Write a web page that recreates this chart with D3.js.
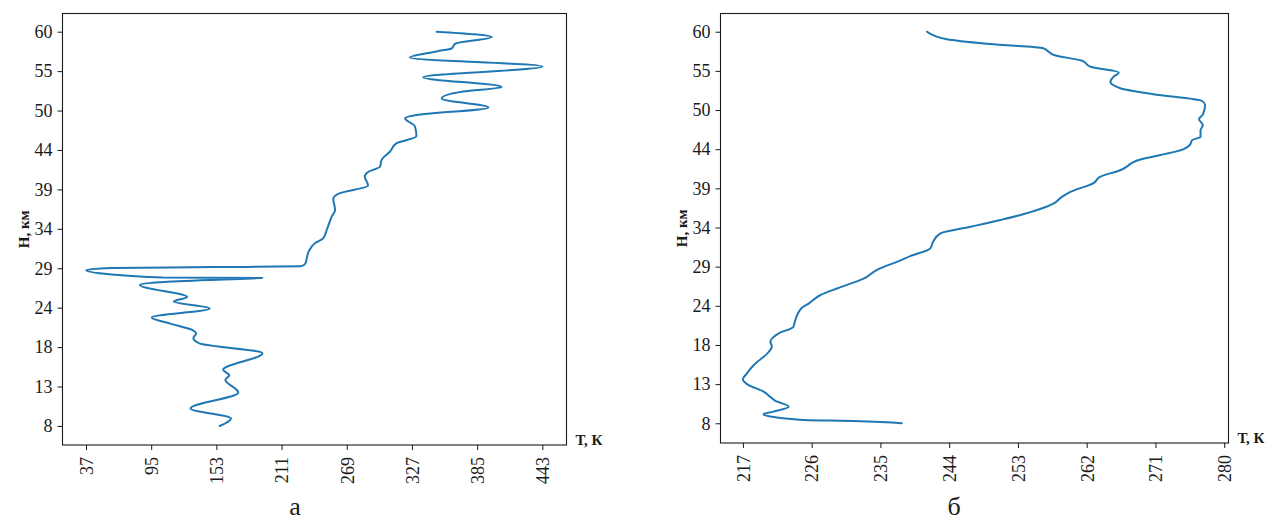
<!DOCTYPE html>
<html>
<head>
<meta charset="utf-8">
<script src="https://cdn.jsdelivr.net/npm/d3@7"></script>
<style>
  html, body { margin: 0; padding: 0; background: #fff; }
  svg { display: block; }
  text { font-family: "Liberation Serif", "Times New Roman", serif; fill: #1a1a1a; }
</style>
</head>
<body>
<svg id="chart" width="1270" height="522"></svg>
<script>
// Temperature profile (a): altitude, km and temperature, K
const heightA = [8.0, 9.0, 10.3, 12.4, 14.1, 14.7, 15.4, 17.6, 18.9, 19.6, 20.2, 20.7, 21.5, 22.3, 23.5, 24.4, 25.0, 26.6, 26.95, 27.25, 27.5, 27.58, 28.0, 28.57, 28.85, 28.95, 29.05, 29.4, 30.1, 31.0, 32.1, 32.75, 33.85, 35.6, 36.5, 38.0, 38.7, 39.7, 40.9, 41.5, 42.2, 43.1, 44.2, 45.3, 46.2, 47.5, 48.6, 49.0, 50.0, 51.2, 52.1, 52.7, 54.0, 55.4, 56.6, 57.4, 57.8, 58.4, 59.3, 60.0];
const tempA = [156, 166, 130, 172.5, 161, 164.5, 159, 194, 138, 132.5, 135, 131, 112, 95.5, 147, 115, 127, 85, 103, 147, 194, 105, 58, 37, 60, 150, 228, 232, 233.4, 235, 240.7, 248, 251.2, 255.6, 258.6, 257, 263, 288, 285, 288, 298.6, 300, 307.5, 313.4, 331, 329.7, 320.8, 331, 395, 353.5, 372.7, 406.8, 337, 443, 325.3, 349, 362.4, 365.3, 398, 349];

// Temperature profile (б)
const heightB = [8.0, 8.3, 8.44, 8.9, 9.2, 9.55, 10.2, 11.0, 11.5, 12.2, 13.1, 13.85, 14.6, 15.7, 17.5, 18.2, 18.8, 19.95, 20.8, 21.5, 23.3, 23.9, 25.0, 25.9, 27.2, 28.35, 29.7, 30.2, 31.2, 32.1, 33.2, 34.1, 35.0, 35.6, 37.2, 38.1, 38.7, 39.9, 40.75, 41.6, 42.9, 44.4, 44.95, 45.6, 46.05, 46.9, 47.6, 48.4, 49.0, 50.3, 50.8, 51.7, 52.5, 53.35, 54.0, 54.6, 55.35, 56.15, 56.9, 57.35, 57.8, 58.4, 59.0, 60.0];
const tempB = [237.8, 231.5, 224.9, 220.6, 219.7, 221.0, 223.0, 221.2, 220.6, 219.7, 217.7, 217.0, 217.5, 218.4, 220.4, 220.8, 220.6, 221.7, 223.6, 223.8, 224.7, 225.6, 227.1, 229.3, 232.8, 234.5, 237.8, 238.9, 241.5, 241.9, 242.8, 246.8, 250.7, 253.1, 257.7, 258.8, 259.8, 262.9, 263.8, 266.4, 268.6, 274.7, 275.5, 275.8, 276.9, 276.9, 277.2, 276.7, 277.2, 277.5, 277.1, 270.7, 266.4, 265.1, 265.5, 266.2, 262.5, 261.4, 257.7, 257.0, 256.3, 248.9, 243.7, 241.1];

// Axis tick labels
const heightTickLabels = ["8", "13", "18", "24", "29", "34", "39", "44", "50", "55", "60"];
const tempTickLabelsA = ["37", "95", "153", "211", "269", "327", "385", "443"];
const tempTickLabelsB = ["217", "226", "235", "244", "253", "262", "271", "280"];

const panelLetters = ["а", "б"];
const yAxisTitle = "Н, км";
const xAxisTitle = "Т, К";

const svg = d3.select("#chart");

function drawPanel(cfg) {
  const { heights, temps, xTicks, xDomain, yDomain, box, letter, letterX } = cfg;
  const x = d3.scaleLinear().domain(xDomain).range([box.left, box.right]);
  const y = d3.scaleLinear().domain(yDomain).range([box.bottom, box.top]);

  // evenly spaced height ticks between the lowest and highest altitude
  const hMin = d3.min(heights), hMax = d3.max(heights);
  const n = heightTickLabels.length - 1;
  const yTickVals = d3.range(n + 1).map(i => hMin + i * (hMax - hMin) / n);

  const g = svg.append("g");

  // profile line
  const line = d3.line()
    .x((d, i) => x(temps[i]))
    .y(d => y(d))
    .curve(d3.curveMonotoneY);
  g.append("path")
    .datum(heights)
    .attr("d", line)
    .attr("fill", "none")
    .attr("stroke", "#1f77b4")
    .attr("stroke-width", 2)
    .attr("stroke-linejoin", "round")
    .attr("stroke-linecap", "round");

  // left axis
  const yAxis = d3.axisLeft(y)
    .tickValues(yTickVals)
    .tickFormat((d, i) => heightTickLabels[i])
    .tickSize(5).tickPadding(5).tickSizeOuter(0);
  const ya = g.append("g").attr("transform", `translate(${box.left},0)`).call(yAxis);
  ya.select(".domain").remove();
  ya.selectAll("line").attr("stroke", "#1a1a1a");
  ya.selectAll("text").attr("font-size", 18).attr("font-family", "Liberation Serif, serif").attr("fill", "#1a1a1a");

  // bottom axis with vertical labels
  const xAxis = d3.axisBottom(x)
    .tickValues(xTicks.map(Number))
    .tickFormat((d, i) => xTicks[i])
    .tickSize(5).tickSizeOuter(0);
  const xa = g.append("g").attr("transform", `translate(0,${box.bottom})`).call(xAxis);
  xa.select(".domain").remove();
  xa.selectAll("line").attr("stroke", "#1a1a1a");
  xa.selectAll("text")
    .attr("font-size", 18).attr("font-family", "Liberation Serif, serif").attr("fill", "#1a1a1a")
    .attr("transform", "rotate(-90)")
    .attr("text-anchor", "end")
    .attr("x", -12).attr("y", 0).attr("dy", "0.35em");

  // frame
  g.append("rect")
    .attr("x", box.left).attr("y", box.top)
    .attr("width", box.right - box.left).attr("height", box.bottom - box.top)
    .attr("fill", "none").attr("stroke", "#1a1a1a").attr("stroke-width", 1.1);

  // axis titles
  g.append("text")
    .attr("transform", `translate(${box.left - 39},${(box.top + box.bottom) / 2}) rotate(-90)`)
    .attr("text-anchor", "middle").attr("dy", "0.35em")
    .attr("font-size", 15).attr("font-weight", "bold")
    .text(yAxisTitle);
  g.append("text")
    .attr("x", box.right + 9).attr("y", box.bottom)
    .attr("font-size", 15).attr("font-weight", "bold")
    .text(xAxisTitle);

  // panel letter
  g.append("text")
    .attr("x", letterX).attr("y", 515)
    .attr("text-anchor", "middle")
    .attr("font-size", 26)
    .attr("fill", "#000")
    .text(letter);
}

drawPanel({
  heights: heightA, temps: tempA, xTicks: tempTickLabelsA,
  xDomain: [16.1, 464.5], yDomain: [5.49, 62.4],
  box: { left: 62.5, right: 566.5, top: 13.5, bottom: 445 },
  letter: panelLetters[0], letterX: 295
});

drawPanel({
  heights: heightB, temps: tempB, xTicks: tempTickLabelsB,
  xDomain: [214.07, 280.56], yDomain: [5.38, 62.42],
  box: { left: 720.5, right: 1228.5, top: 13.5, bottom: 443 },
  letter: panelLetters[1], letterX: 954
});
</script>
</body>
</html>
